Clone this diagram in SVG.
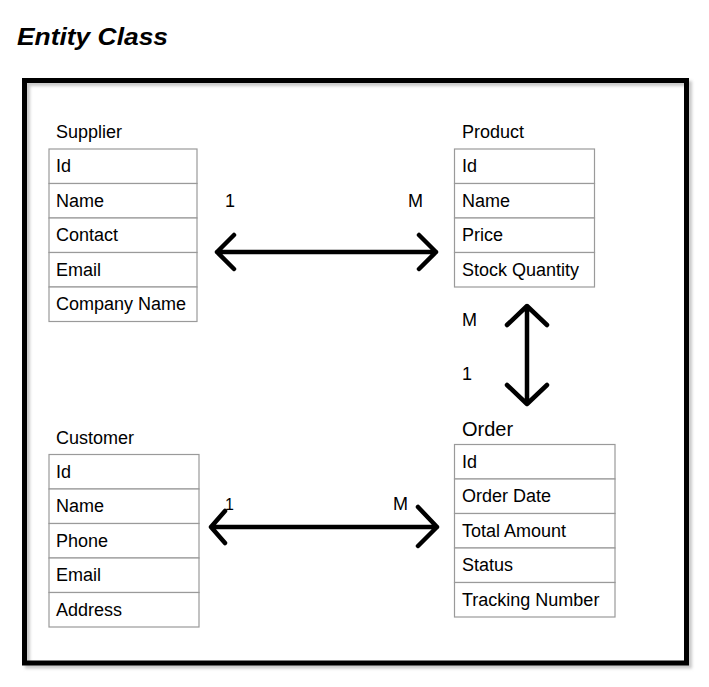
<svg xmlns="http://www.w3.org/2000/svg" width="709" height="687" viewBox="0 0 709 687">
<style>
.t{font-family:"Liberation Sans",Arial,sans-serif;font-size:18px;fill:#000}
.cell{fill:#fff;stroke:#9a9a9a;stroke-width:1.2}
.conn{fill:none;stroke:#000;stroke-width:4.5;stroke-linecap:round;stroke-linejoin:round}
</style>
<defs>
<filter id="sh" x="-5%" y="-5%" width="110%" height="110%"><feGaussianBlur stdDeviation="1.5"/></filter>
</defs>
<rect width="709" height="687" fill="#fff"/>
<text x="17" y="45" style="font-family:'Liberation Sans',Arial,sans-serif;font-size:24px;font-weight:bold;font-style:italic" textLength="151" lengthAdjust="spacingAndGlyphs">Entity Class</text>
<g id="frame">
<rect x="27.5" y="83.5" width="662" height="582.5" fill="none" stroke="#c8c8c8" stroke-width="5" filter="url(#sh)"/>
<rect x="24.5" y="80.5" width="662" height="582.5" fill="none" stroke="#000" stroke-width="5"/>
</g>
<g id="supplier">
<text class="t" x="56" y="138">Supplier</text>
<rect class="cell" x="49" y="149" width="148" height="34.5"/>
<rect class="cell" x="49" y="183.5" width="148" height="34.5"/>
<rect class="cell" x="49" y="218" width="148" height="34.5"/>
<rect class="cell" x="49" y="252.5" width="148" height="34.5"/>
<rect class="cell" x="49" y="287" width="148" height="34.5"/>
<text class="t" x="56" y="172">Id</text>
<text class="t" x="56" y="206.5">Name</text>
<text class="t" x="56" y="241">Contact</text>
<text class="t" x="56" y="275.5">Email</text>
<text class="t" x="56" y="310">Company Name</text>
</g>
<g id="product">
<text class="t" x="462" y="138">Product</text>
<rect class="cell" x="454.5" y="149" width="140" height="34.5"/>
<rect class="cell" x="454.5" y="183.5" width="140" height="34.5"/>
<rect class="cell" x="454.5" y="218" width="140" height="34.5"/>
<rect class="cell" x="454.5" y="252.5" width="140" height="34.5"/>
<text class="t" x="462" y="172">Id</text>
<text class="t" x="462" y="206.5">Name</text>
<text class="t" x="462" y="241">Price</text>
<text class="t" x="462" y="275.5">Stock Quantity</text>
</g>
<g id="customer">
<text class="t" x="56" y="444">Customer</text>
<rect class="cell" x="49" y="454.5" width="150" height="34.5"/>
<rect class="cell" x="49" y="489" width="150" height="34.5"/>
<rect class="cell" x="49" y="523.5" width="150" height="34.5"/>
<rect class="cell" x="49" y="558" width="150" height="34.5"/>
<rect class="cell" x="49" y="592.5" width="150" height="34.5"/>
<text class="t" x="56" y="477.5">Id</text>
<text class="t" x="56" y="512">Name</text>
<text class="t" x="56" y="546.5">Phone</text>
<text class="t" x="56" y="581">Email</text>
<text class="t" x="56" y="615.5">Address</text>
</g>
<g id="order">
<text class="t" x="462" y="435.5" style="font-size:20px">Order</text>
<rect class="cell" x="454.5" y="444.5" width="160.5" height="34.5"/>
<rect class="cell" x="454.5" y="479" width="160.5" height="34.5"/>
<rect class="cell" x="454.5" y="513.5" width="160.5" height="34.5"/>
<rect class="cell" x="454.5" y="548" width="160.5" height="34.5"/>
<rect class="cell" x="454.5" y="582.5" width="160.5" height="34.5"/>
<text class="t" x="462" y="467.5">Id</text>
<text class="t" x="462" y="502">Order Date</text>
<text class="t" x="462" y="536.5">Total Amount</text>
<text class="t" x="462" y="571">Status</text>
<text class="t" x="462" y="605.5">Tracking Number</text>
</g>
<g id="connectors">
<path class="conn" d="M217 252H436M234 235L217 252L234 269M419 235L436 252L419 269"/>
<path class="conn" d="M527 306V404M507 325L527 306L547 325M507 385L527 404L547 385"/>
<path class="conn" d="M211 527H437M225 511L211 527L225 543M418 507L437 527L418 546"/>
<text class="t" x="225" y="207">1</text>
<text class="t" x="408" y="207">M</text>
<text class="t" x="462" y="326">M</text>
<text class="t" x="462" y="380">1</text>
<text class="t" x="225" y="510" style="font-size:16px">1</text>
<text class="t" x="393" y="510">M</text>
</g>
</svg>
